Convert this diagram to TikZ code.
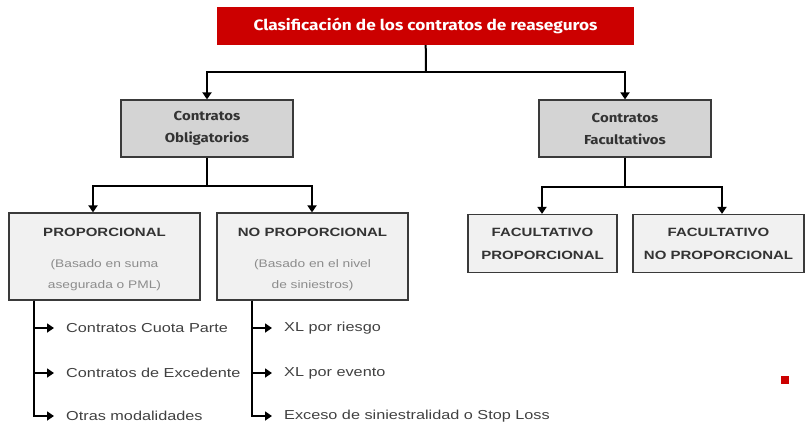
\documentclass[tikz,border=0pt]{standalone}
\usepackage{fontspec}
\setmainfont{Liberation Sans}[FakeStretch=1.25]
\newfontfamily\dinfont{Fira Sans}[FakeStretch=1.15]
\usetikzlibrary{positioning}
\usetikzlibrary{arrows.meta}
\definecolor{rojo}{HTML}{CC0000}
\definecolor{borde}{HTML}{3A3A3A}
\definecolor{grisoscuro}{HTML}{D4D4D4}
\definecolor{grisclaro}{HTML}{F1F1F1}
\definecolor{textobox}{HTML}{333333}
\definecolor{textolista}{HTML}{404040}
\definecolor{gristexto}{HTML}{8C8C8C}
\tikzset{
  titulo/.style={fill=rojo, text=white, font=\dinfont\bfseries\fontsize{15}{17}\selectfont,
    minimum width=417pt, minimum height=38pt},
  grupo/.style={draw=borde, line width=1.2pt, fill=grisoscuro, text=textobox, align=center,
    font=\dinfont\bfseries\fontsize{13}{22}\selectfont, minimum width=172pt, minimum height=57pt},
  tipo/.style={draw=borde, line width=1.2pt, fill=grisclaro, text=textobox, align=center,
    font=\bfseries\fontsize{12}{21}\selectfont, minimum width=191pt, minimum height=87pt},
  factipo/.style={tipo, font=\bfseries\fontsize{12}{23}\selectfont, minimum width=149pt, minimum height=58pt},
  item/.style={anchor=west, inner xsep=12pt, text=textolista, font=\fontsize{13}{15}\selectfont},
  linea/.style={line width=2pt},
  flecha/.style={line width=2pt, -{Triangle[length=7pt,width=9pt]}},
}

\begin{document}
\begin{tikzpicture}[x=1pt,y=-1pt]
      \newcommand{\nota}[1]{{\fontsize{11}{21}\selectfont\mdseries\color{gristexto}%
        \begin{tabular}[t]{@{}c@{}}#1\end{tabular}}}
      \useasboundingbox (0,0) rectangle (805,423);
      % cajas
      \node[titulo] (tit) at (425.5,26) {Clasificación de los contratos de reaseguros};
      \node[grupo] (oblig) at (207,128.5) {Contratos\\Obligatorios};
      \node[grupo] (facult) at (625,128.5) {Contratos\\Facultativos};
      \node[tipo] (prop) at (104.5,256.5)
        {\rule{0pt}{19pt}PROPORCIONAL\\[10pt]\nota{(Basado en suma\\asegurada o PML)}};
      \node[tipo] (noprop) at (312.5,256.5)
        {\rule{0pt}{19pt}NO PROPORCIONAL\\[10pt]\nota{(Basado en el nivel\\de siniestros)}};
      \node[factipo] (facprop) at (542.5,243.5) {FACULTATIVO\\PROPORCIONAL};
      \node[factipo, minimum width=171pt] (facnoprop) at (718.5,243.5) {FACULTATIVO\\NO PROPORCIONAL};
      % modalidades
      \node[item] (cuota) at (54,328) {Contratos Cuota Parte};
      \node[item] (excedente) at (54,373) {Contratos de Excedente};
      \node[item] (otras) at (54,416) {Otras modalidades};
      \node[item] (riesgo) at (272,328) {XL por riesgo};
      \node[item] (evento) at (272,373) {XL por evento};
      \node[item] (stoploss) at (272,416) {Exceso de siniestralidad o Stop Loss};
      % puntos de las barras
      \coordinate (b1) at (426,72);
      \coordinate (b2w) at (93,186);
      \coordinate (b2e) at (312,186);
      \coordinate (b3w) at (542,187);
      \coordinate (b3e) at (722,187);
      \coordinate (lx) at (34,300);
      \coordinate (rx) at (252,300);
      % conectores
      \draw[linea] (tit) -- (b1);
      \draw[flecha] (b1) -| (oblig.north);
      \draw[flecha] (b1) -| (facult.north);
      \draw[linea] (oblig) -- (oblig.south |- b2w);
      \draw[flecha] (oblig.south |- b2w) -| (prop.north -| b2w);
      \draw[flecha] (oblig.south |- b2w) -| (noprop.north -| b2e);
      \draw[linea] (facult) -- (facult.south |- b3w);
      \draw[flecha] (facult.south |- b3w) -| (facprop.north -| b3w);
      \draw[flecha] (facult.south |- b3w) -| (facnoprop.north -| b3e);
      \draw[flecha] (prop.south -| lx) |- (cuota.west);
      \draw[flecha] (prop.south -| lx) |- (excedente.west);
      \draw[flecha] (prop.south -| lx) |- (otras.west);
      \draw[flecha] (noprop.south -| rx) |- (riesgo.west);
      \draw[flecha] (noprop.south -| rx) |- (evento.west);
      \draw[flecha] (noprop.south -| rx) |- (stoploss.west);
      \fill[rojo] (781,376) rectangle (789,384);% marca
\end{tikzpicture}
\end{document}
